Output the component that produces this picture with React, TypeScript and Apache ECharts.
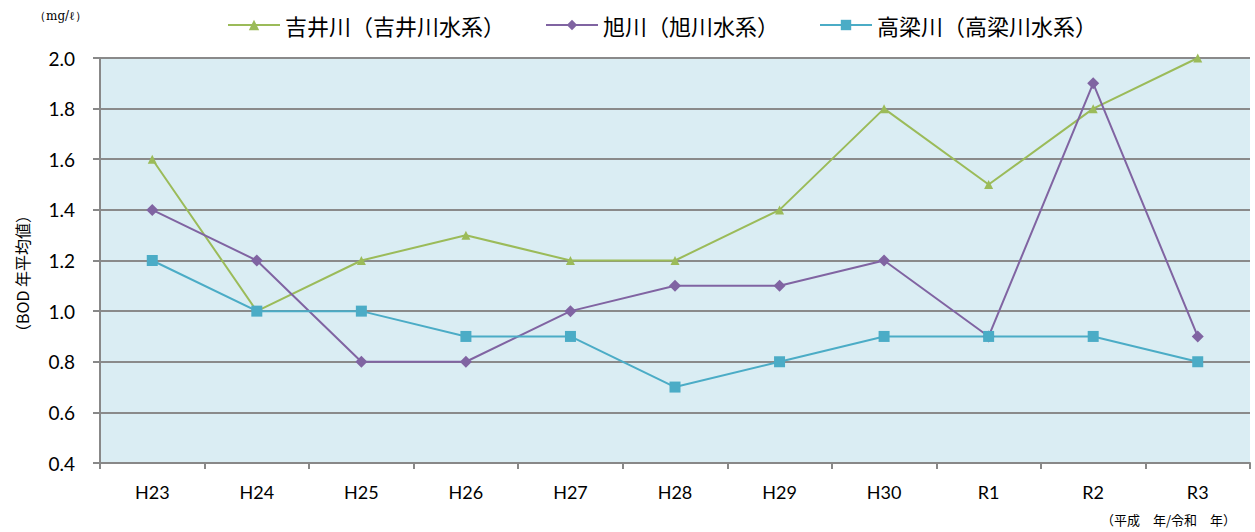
import React, { useEffect, useRef } from "react";
import * as echarts from "echarts";

const categories = ["H23", "H24", "H25", "H26", "H27", "H28", "H29", "H30", "R1", "R2", "R3"];
const yoshiiName = "吉井川（吉井川水系）";
const asahiName = "旭川（旭川水系）";
const takahashiName = "高梁川（高梁川水系）";
const yoshii = [1.6, 1.0, 1.2, 1.3, 1.2, 1.2, 1.4, 1.8, 1.5, 1.8, 2.0];
const asahi = [1.4, 1.2, 0.8, 0.8, 1.0, 1.1, 1.1, 1.2, 0.9, 1.9, 0.9];
const takahashi = [1.2, 1.0, 1.0, 0.9, 0.9, 0.7, 0.8, 0.9, 0.9, 0.9, 0.8];

export default function App() {
  const ref = useRef<HTMLDivElement>(null);
  useEffect(() => {
    document.body.style.margin = "0";
    const chart = echarts.init(ref.current!, null, { renderer: "svg" });
    const font = "Lato, 'Open Sans', sans-serif";
    chart.setOption({
      animation: false,
      backgroundColor: "#ffffff",
      textStyle: { fontFamily: font },
      legend: {
        top: 9,
        left: 222,
        itemGap: 40,
        itemWidth: 52,
        itemHeight: 13,
        textStyle: { fontSize: 22, color: "#000", fontFamily: "'Noto Sans CJK JP', sans-serif" },
        data: [yoshiiName, asahiName, takahashiName],
      },
      grid: {
        left: 100,
        right: 5,
        top: 58,
        bottom: 69,
        show: true,
        backgroundColor: "#daedf3",
        borderWidth: 0,
      },
      xAxis: {
        type: "category",
        data: categories,
        boundaryGap: true,
        axisLine: { lineStyle: { color: "#888888", width: 2 } },
        axisTick: { show: true, length: 6, lineStyle: { color: "#888888", width: 2 } },
        axisLabel: { fontSize: 18, color: "#000", margin: 20, fontFamily: font },
      },
      yAxis: {
        type: "value",
        min: 0.4,
        max: 2.0,
        interval: 0.2,
        axisLine: { show: true, lineStyle: { color: "#888888", width: 2 } },
        axisTick: { show: true, length: 7, lineStyle: { color: "#888888", width: 2 } },
        splitLine: { lineStyle: { color: "#8a8a8a", width: 2 } },
        axisLabel: {
          fontSize: 19,
          color: "#000",
          margin: 25,
          fontFamily: font,
          formatter: (v: number) => v.toFixed(1),
        },
      },
      graphic: [
        {
          type: "text",
          left: 34,
          top: 10,
          style: { text: "（mg/ℓ）", fontSize: 12, fill: "#000", fontFamily: "'DejaVu Serif', serif" },
        },
        {
          type: "text",
          x: 14,
          y: 340,
          rotation: Math.PI / 2,
          style: {
            text: "（BOD 年平均値）",
            fontSize: 16,
            fill: "#000",
            fontFamily: "'Noto Sans CJK JP', serif",
          },
        },
        {
          type: "text",
          left: 1101,
          top: 513,
          style: { text: "（平成　年/令和　年）", fontSize: 13, fill: "#000", fontFamily: "'Noto Sans CJK JP', sans-serif" },
        },
      ],
      series: [
        {
          name: yoshiiName,
          type: "line",
          data: yoshii,
          color: "#9bbb59",
          symbol: "triangle",
          symbolSize: 9,
          lineStyle: { width: 2 },
        },
        {
          name: asahiName,
          type: "line",
          data: asahi,
          color: "#8064a2",
          symbol: "diamond",
          symbolSize: 12,
          lineStyle: { width: 2 },
        },
        {
          name: takahashiName,
          type: "line",
          data: takahashi,
          color: "#4bacc6",
          symbol: "rect",
          symbolSize: 11,
          lineStyle: { width: 2 },
        },
      ],
    });
    return () => chart.dispose();
  }, []);
  return <div ref={ref} style={{ width: 1255, height: 532 }} />;
}
